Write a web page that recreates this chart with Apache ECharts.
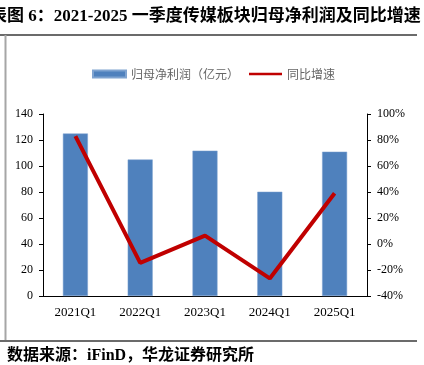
<!DOCTYPE html>
<html>
<head>
<meta charset="utf-8">
<script src="https://cdn.jsdelivr.net/npm/echarts@6/dist/echarts.min.js"></script>
<style>
  html, body { margin: 0; padding: 0; background: #fff; }
  #chart { width: 424px; height: 365px; }
</style>
</head>
<body>
<div id="chart"></div>
<script>
const quarters = ['2021Q1', '2022Q1', '2023Q1', '2024Q1', '2025Q1'];
// 归母净利润（亿元）
const netProfit = [125, 105, 111.8, 80.2, 111];
// 同比增速（%）
const yoyGrowth = [83, -14.5, 6.5, -26.5, 39];

const serif = '"Liberation Serif", "Times New Roman", serif';
const cjk = '"Liberation Serif", "Noto Sans CJK SC", serif';

// thin bar centred in the legend box, used as the line legend icon
const lineIcon = 'path://M0,0L0.01,0M0,2.2L33,2.2L33,4.8L0,4.8ZM0,7L0.01,7';

const myChart = echarts.init(document.getElementById('chart'));

const option = {
  animation: false,
  graphic: [
    {
      type: 'text',
      left: -10,
      top: 8,
      style: {
        text: '表图 6：2021-2025 一季度传媒板块归母净利润及同比增速',
        font: 'bold 17px ' + cjk,
        fill: '#000'
      }
    },
    {
      type: 'line',
      shape: { x1: 0, y1: 35, x2: 417, y2: 35 },
      style: { stroke: '#3a3a3a', lineWidth: 1.5 }
    },
    {
      type: 'line',
      shape: { x1: 5.5, y1: 35, x2: 5.5, y2: 340 },
      style: { stroke: '#a6a6a6', lineWidth: 2 }
    },
    {
      type: 'line',
      shape: { x1: 0, y1: 341, x2: 417, y2: 341 },
      style: { stroke: '#3a3a3a', lineWidth: 1.5 }
    },
    {
      type: 'text',
      left: 7,
      top: 348,
      style: {
        text: '数据来源：iFinD，华龙证券研究所',
        font: 'bold 16px ' + cjk,
        fill: '#000'
      }
    }
  ],
  legend: {
    left: 87,
    top: 63,
    itemWidth: 33,
    itemHeight: 7,
    itemGap: 10,
    textStyle: {
      color: '#666',
      fontSize: 12,
      fontFamily: '"Noto Sans CJK SC", sans-serif'
    },
    data: [
      { name: '归母净利润（亿元）', icon: 'rect' },
      { name: '同比增速', icon: lineIcon }
    ]
  },
  grid: {
    left: 43,
    right: 57,
    top: 114,
    bottom: 69
  },
  xAxis: [
    {
      type: 'category',
      data: quarters,
      axisLine: { lineStyle: { color: '#000', width: 1 } },
      axisTick: { length: 5, lineStyle: { color: '#000' } },
      axisLabel: {
        color: '#000',
        fontSize: 13,
        fontFamily: serif,
        margin: 10
      }
    },
    {
      type: 'category',
      data: quarters,
      position: 'bottom',
      axisLine: { show: false },
      axisTick: { alignWithLabel: true, length: 5, lineStyle: { color: '#000' } },
      axisLabel: { show: false }
    }
  ],
  yAxis: [
    {
      type: 'value',
      min: 0,
      max: 140,
      interval: 20,
      axisLine: { show: true, lineStyle: { color: '#000' } },
      axisTick: { show: true, length: 4, lineStyle: { color: '#000' } },
      splitLine: { show: false },
      axisLabel: {
        color: '#000',
        fontSize: 12,
        fontFamily: serif,
        margin: 10
      }
    },
    {
      type: 'value',
      min: -40,
      max: 100,
      interval: 20,
      position: 'right',
      axisLine: { show: true, lineStyle: { color: '#000' } },
      axisTick: { show: true, length: 4, lineStyle: { color: '#000' } },
      splitLine: { show: false },
      axisLabel: {
        color: '#000',
        fontSize: 12,
        fontFamily: serif,
        margin: 10,
        formatter: '{value}%'
      }
    }
  ],
  series: [
    {
      name: '归母净利润（亿元）',
      type: 'bar',
      data: netProfit,
      barWidth: 25,
      itemStyle: { color: '#4f81bd', borderColor: '#7fa3d0', borderWidth: 0.5 }
    },
    {
      name: '同比增速',
      type: 'line',
      yAxisIndex: 1,
      data: yoyGrowth,
      symbol: 'none',
      lineStyle: { color: '#c00000', width: 4 },
      itemStyle: { color: '#c00000' }
    }
  ]
};

myChart.setOption(option);
window.addEventListener('resize', function () {
  myChart.resize();
});
</script>
</body>
</html>
